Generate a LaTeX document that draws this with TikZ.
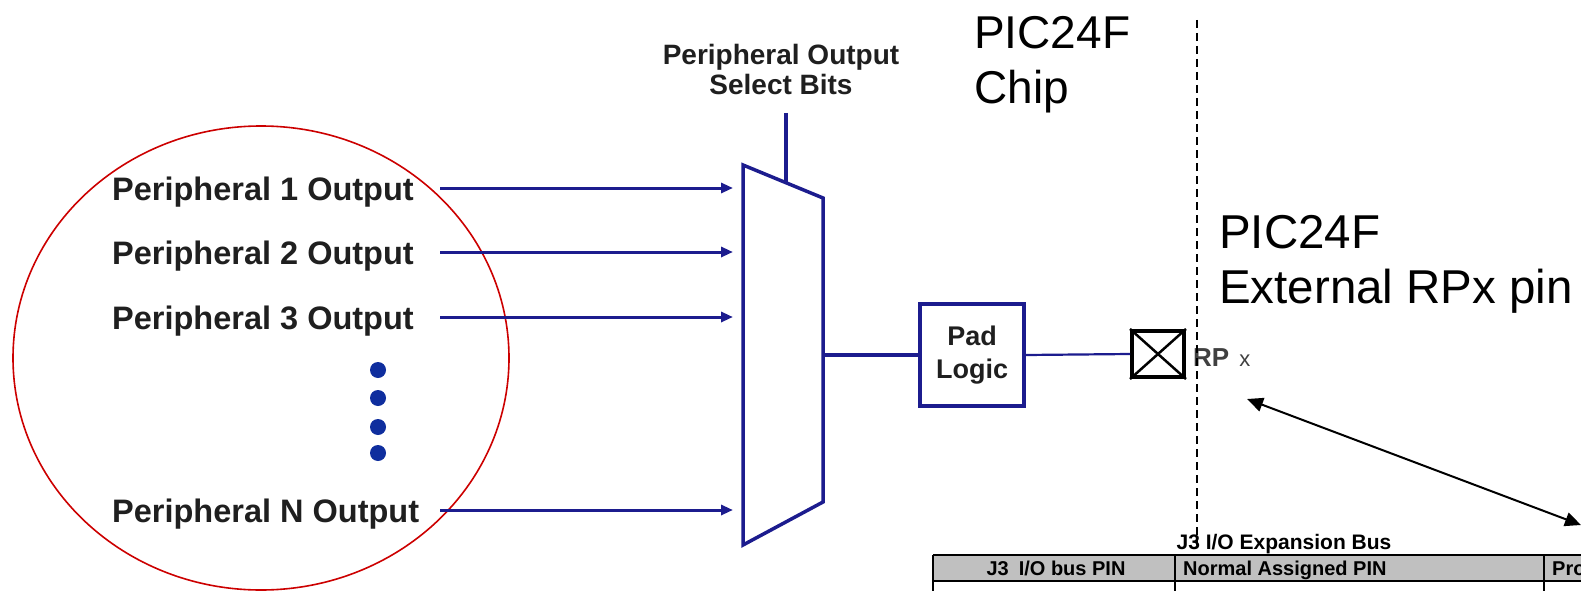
\documentclass[tikz,border=0pt]{standalone}
\usepackage{fontspec}
\setmainfont{Liberation Sans}
\usetikzlibrary{arrows.meta}
\definecolor{navy}{HTML}{1C1C8E}
\definecolor{dotblue}{HTML}{0F2E9E}
\definecolor{ellred}{HTML}{CC0000}
\definecolor{hdrgray}{HTML}{C0C0C0}
\begin{document}
\begin{tikzpicture}[x=1pt,y=-1pt,
  plabel/.style={anchor=base west,inner sep=0pt,font=\fontsize{32.5}{36}\selectfont\bfseries,text=black!88},
  inarrow/.style={draw=navy,line width=3pt,-{Triangle[length=12pt,width=10pt]}},
  bus/.style={draw=navy,line width=3.5pt},
  bigtext/.style={anchor=base west,inner sep=0pt,align=left,font=\fontsize{46}{55}\selectfont},
  tbltext/.style={anchor=base,inner sep=0pt,font=\fontsize{20}{22}\selectfont\bfseries},
  dotstyle/.style={fill=dotblue,draw=none}
]
\useasboundingbox (0,0) rectangle (1581,591);

% red ellipse
\draw[ellred,line width=1.6pt] (261,358) ellipse [x radius=248, y radius=232];

% peripheral labels
\node[plabel] (p1) at (112,200) {Peripheral 1 Output};
\node[plabel] (p2) at (112,264) {Peripheral 2 Output};
\node[plabel] (p3) at (112,329) {Peripheral 3 Output};
\node[plabel] (pn) at (112,522) {Peripheral N Output};

% dots
\foreach \yy in {370,398,427,453}
  \fill[dotstyle] (378,\yy) circle (8);

% arrow end points
\coordinate (a1s) at (440,188); \coordinate (a1e) at (733,188);
\coordinate (a2s) at (440,252); \coordinate (a2e) at (733,252);
\coordinate (a3s) at (440,317); \coordinate (a3e) at (733,317);
\coordinate (ans) at (440,510); \coordinate (ane) at (733,510);
\draw[inarrow] (a1s) -- (a1e);
\draw[inarrow] (a2s) -- (a2e);
\draw[inarrow] (a3s) -- (a3e);
\draw[inarrow] (ans) -- (ane);

% mux
\coordinate (m1) at (743,165);
\coordinate (m2) at (823,198);
\coordinate (m3) at (823,502);
\coordinate (m4) at (743,545);
\draw[navy,line width=3.5pt,line join=miter] (m1) -- (m2) -- (m3) -- (m4) -- cycle;
\coordinate (selTop) at (786,113);
\coordinate (selBot) at (786,182.7);
\draw[bus] (selTop) -- (selBot);
\node[anchor=base,inner sep=0pt,align=center,font=\fontsize{28}{30}\selectfont\bfseries,text=black!88] (sel) at (781,95) {Peripheral Output\\Select Bits};

% pad logic
\node[draw=navy,line width=4pt,minimum width=104pt,minimum height=102pt,inner sep=0pt,align=center,
      font=\fontsize{27}{33}\selectfont\bfseries,text=black!88] (pad) at (972,355) {Pad\\Logic};
\coordinate (muxout) at (823,355);
\draw[bus] (muxout) -- (pad.west);

% pin box
\node[draw=black,line width=4pt,minimum width=52pt,minimum height=46pt,inner sep=0pt] (xbox) at (1158,354) {};
\draw[black,line width=2.5pt] (xbox.north west) -- (xbox.south east);
\draw[black,line width=2.5pt] (xbox.south west) -- (xbox.north east);
\draw[navy,line width=2.2pt] (pad.east) -- (xbox.west);
\node[anchor=base west,inner sep=0pt,font=\fontsize{26}{30}\selectfont\bfseries,text=black!75] (rp) at (1193,366) {RP\hspace{10pt}{\fontsize{22}{24}\selectfont\mdseries x}};

% dashed boundary
\coordinate (dTop) at (1197,20);
\coordinate (dBot) at (1197,545);
\draw[black,line width=1.8pt,dash pattern=on 8pt off 5pt] (dTop) -- (dBot);

% big labels
\node[bigtext] (chip) at (974,104) {PIC24F\\Chip};
\node[bigtext,font=\fontsize{47.5}{55}\selectfont] (ext) at (1219,303) {PIC24F\\External RPx pin};

% double arrow
\coordinate (da1) at (1247,399);
\coordinate (da2) at (1581,525);
\draw[black,line width=2pt,{Triangle[length=16pt,width=14pt]}-{Triangle[length=16pt,width=14pt]}] (da1) -- (da2);

% table
\node[tbltext,font=\fontsize{21}{22}\selectfont\bfseries] (ttl) at (1284,549) {J3 I/O Expansion Bus};
\fill[hdrgray] (933,555) rectangle (1600,581);
\draw[black,line width=1.5pt] (933,555) -- (1600,555);
\draw[black,line width=1.5pt] (933,581) -- (1600,581);
\draw[black,line width=1.5pt] (933,555) -- (933,600);
\draw[black,line width=1.5pt] (1175,555) -- (1175,600);
\draw[black,line width=2pt] (1544,555) -- (1544,600);
\node[tbltext] (h1) at (1056,575) {J3\hspace{10pt}I/O bus PIN};
\node[tbltext,anchor=base west] (h2) at (1183,575) {Normal Assigned PIN};
\node[tbltext,anchor=base west] (h3) at (1552,575) {Pro};
\end{tikzpicture}
\end{document}
